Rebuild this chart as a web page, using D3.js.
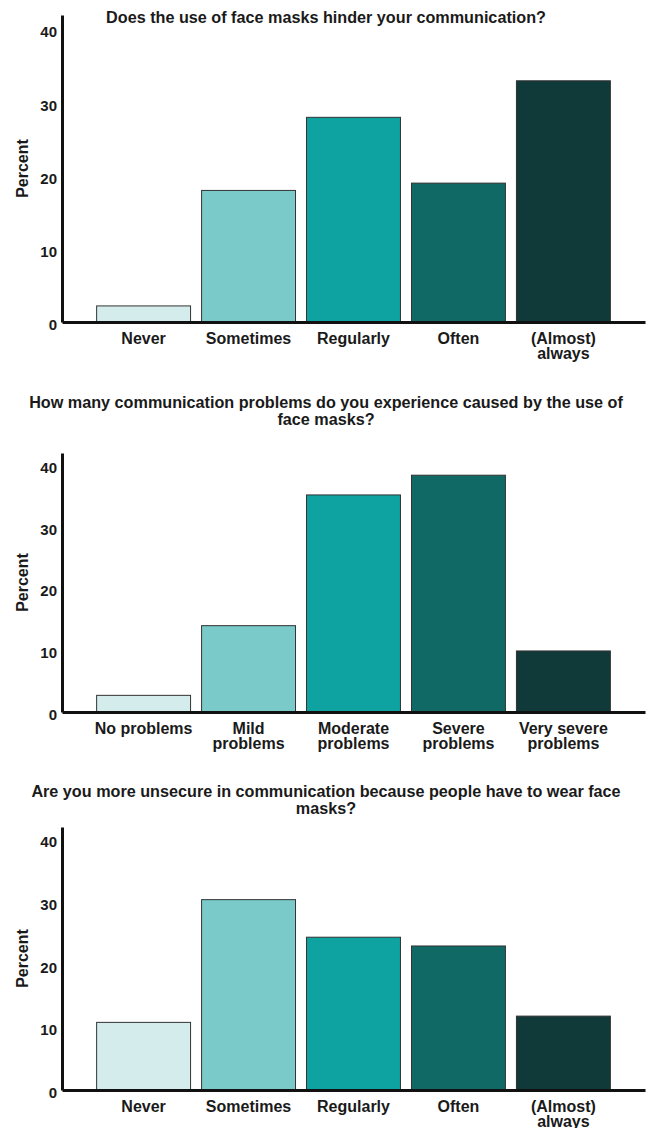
<!DOCTYPE html>
<html>
<head>
<meta charset="utf-8">
<script src="https://cdn.jsdelivr.net/npm/d3@7"></script>
<style>
  body { margin:0; background:#fff; }
  text { font-family:"Liberation Sans", Arial, sans-serif; font-weight:bold; fill:#1a1a1a; }
</style>
</head>
<body>
<div id="chart"></div>
<script>
// data
var freqCats = [["Never"], ["Sometimes"], ["Regularly"], ["Often"], ["(Almost)", "always"]];
var probCats = [["No problems"], ["Mild", "problems"], ["Moderate", "problems"], ["Severe", "problems"], ["Very severe", "problems"]];

var hinderVals = [2.2, 18, 28, 19, 33];
var problemVals = [2.7, 14, 35.2, 38.4, 9.9];
var unsecureVals = [10.8, 30.4, 24.4, 23, 11.8];

var yTicks = [0, 10, 20, 30, 40];
var barColors = ["#d4ecec", "#79cac8", "#0ea3a0", "#106965", "#103a3a"];

var title1 = ["Does the use of face masks hinder your communication?"];
var title2 = ["How many communication problems do you experience caused by the use of", "face masks?"];
var title3 = ["Are you more unsecure in communication because people have to wear face", "masks?"];

var width = 646, height = 1128;

var svg = d3.select("#chart").append("svg")
  .attr("width", width)
  .attr("height", height);

function drawPanel(opt) {
  var g = svg.append("g");

  var x = d3.scaleBand()
    .domain(d3.range(opt.cats.length))
    .range([62, 645])
    .paddingInner(0.105)
    .paddingOuter(0.33);

  var y = d3.scaleLinear()
    .domain([0, 42])
    .range([opt.base, opt.top]);

  //title
  g.selectAll("text.title").data(opt.title).enter().append("text")
    .attr("class", "title")
    .attr("x", 326)
    .attr("y", function(d, i){ return opt.titleY + i * 17; })
    .attr("text-anchor", "middle")
    .style("font-size", "16.2px")
    .text(function(d){ return d; });

  //bars
  g.selectAll("rect.bar").data(opt.vals).enter().append("rect")
    .attr("class", "bar")
    .attr("x", function(d, i){ return x(i); })
    .attr("y", function(d){ return y(d); })
    .attr("width", x.bandwidth())
    .attr("height", function(d){ return y(0) - y(d); })
    .attr("fill", function(d, i){ return barColors[i]; })
    .attr("stroke", "#333")
    .attr("stroke-width", 1);

  //y axis
  var ya = g.append("g")
    .attr("transform", "translate(62,0)")
    .call(d3.axisLeft(y).tickValues(yTicks).tickSize(0).tickSizeOuter(0).tickPadding(5));
  ya.select(".domain").attr("stroke", "#111").attr("stroke-width", 3);
  ya.selectAll(".tick text")
    .attr("transform", "translate(0,2.5)")
    .style("font-size", "15px")
    .style("font-family", '"Liberation Sans", Arial, sans-serif');

  //x axis
  var xa = g.append("g")
    .attr("transform", "translate(0," + opt.base + ")")
    .call(d3.axisBottom(x).tickSize(0).tickSizeOuter(0).tickFormat(""));
  xa.select(".domain").attr("stroke", "#111").attr("stroke-width", 3);

  xa.selectAll(".tick").each(function(i){
    var t = d3.select(this).append("text")
      .attr("text-anchor", "middle")
      .style("font-size", "16px");
    opt.cats[i].forEach(function(line, k){
      t.append("tspan")
        .attr("x", 0)
        .attr("y", 22 + k * 15)
        .text(line);
    });
  });

  //y label
  g.append("text")
    .attr("transform", "translate(22," + ((opt.top + opt.base) / 2) + ") rotate(-90)")
    .attr("text-anchor", "middle")
    .attr("dy", "0.35em")
    .style("font-size", "16px")
    .text("Percent");
}

drawPanel({ title: title1, titleY: 23, top: 15, base: 322, cats: freqCats, vals: hinderVals });
drawPanel({ title: title2, titleY: 408, top: 453, base: 712, cats: probCats, vals: problemVals });
drawPanel({ title: title3, titleY: 797, top: 827, base: 1090, cats: freqCats, vals: unsecureVals });
</script>
</body>
</html>
